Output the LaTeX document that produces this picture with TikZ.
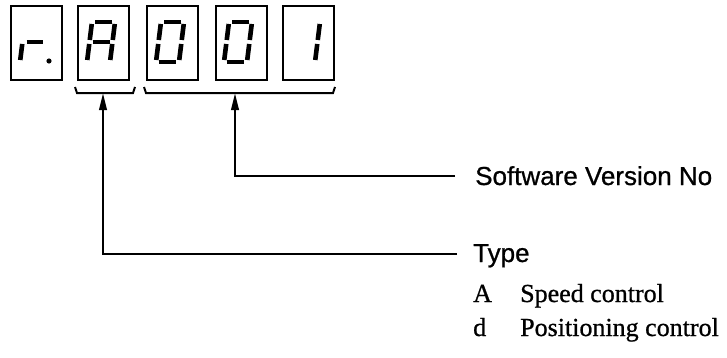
\documentclass[tikz,border=0pt]{standalone}
\usepackage{fontspec}
\setmainfont{Liberation Serif}[FakeBold=0.8]
\newfontfamily\labelsans{Liberation Sans}[FakeBold=0.8]
\usetikzlibrary{arrows.meta}
\newcommand\dsa{\draw[seg] (3,40)--(20,40);}
\newcommand\dsb{\draw[seg] (23,38)--(23,22);}
\newcommand\dsc{\draw[seg] (23,18)--(23,2);}
\newcommand\dsd{\draw[seg] (3,0)--(20,0);}
\newcommand\dse{\draw[seg] (0,2)--(0,18);}
\newcommand\dsf{\draw[seg] (0,22)--(0,38);}
\newcommand\dsg{\draw[seg] (3,20)--(20,20);}
\begin{document}
\begin{tikzpicture}[x=1pt,y=1pt,
  dispbox/.style={draw,line width=2pt,minimum width=51pt,minimum height=74pt,inner sep=0pt},
  seg/.style={line width=4.6pt},
  digit/.style={xslant=0.125},
  conn/.style={line width=2.4pt},
  brk/.style={line width=2pt},
  arrowtip/.style={-{Stealth[length=17pt,width=7.5pt,inset=0pt]}},
  lab/.style={font=\labelsans\fontsize{26}{30}\selectfont,anchor=base west,inner sep=0pt},
  item/.style={font=\fontsize{26}{30}\selectfont,anchor=base west,inner sep=0pt}]
\useasboundingbox (0,0) rectangle (727,357);

% display boxes
\node[dispbox] (d1) at (36,314) {};
\node[dispbox] (d2) at (103.5,314) {};
\node[dispbox] (d3) at (172.5,314) {};
\node[dispbox] (d4) at (241,314) {};
\node[dispbox] (d5) at (308.5,314) {};

% r.
\begin{scope}[shift={(20,295)},digit]
  \dse
  \draw[seg] (4,20)--(20,20);
\end{scope}
\fill (49,296) circle (2.6);
% A
\begin{scope}[shift={(87,295)},digit]
  \dsa\dsb\dsc\dse\dsf\dsg
\end{scope}
% 0
\begin{scope}[shift={(156,295)},digit]
  \dsa\dsb\dsc\dsd\dse\dsf
\end{scope}
% 0
\begin{scope}[shift={(224,295)},digit]
  \dsa\dsb\dsc\dsd\dse\dsf
\end{scope}
% 1
\begin{scope}[shift={(292,295)},digit]
  \dsb\dsc
\end{scope}

% brackets
\draw[brk] (75,270) -- (77,264) -- (133,264) -- (135,270);
\draw[brk] (144,270) -- (146,264) -- (333,264) -- (335,270);

% anchor points
\coordinate (tip1) at (103,264);
\coordinate (tip2) at (235,264);
\coordinate (swend) at (455,181);
\coordinate (tyend) at (457,103);

% connectors
\draw[conn,arrowtip] (swend) -| (tip2);
\draw[conn,arrowtip] (tyend) -| (tip1);

% labels
\node[lab] (sw) at (475,172) {Software Version No};
\node[lab] (ty) at (473,95) {Type};
\node[item] (ia) at (473,55) {A};
\node[item] (ial) at (520,55) {Speed control};
\node[item] (id) at (473,21) {d};
\node[item] (idl) at (520,21) {Positioning control};
\end{tikzpicture}
\end{document}
